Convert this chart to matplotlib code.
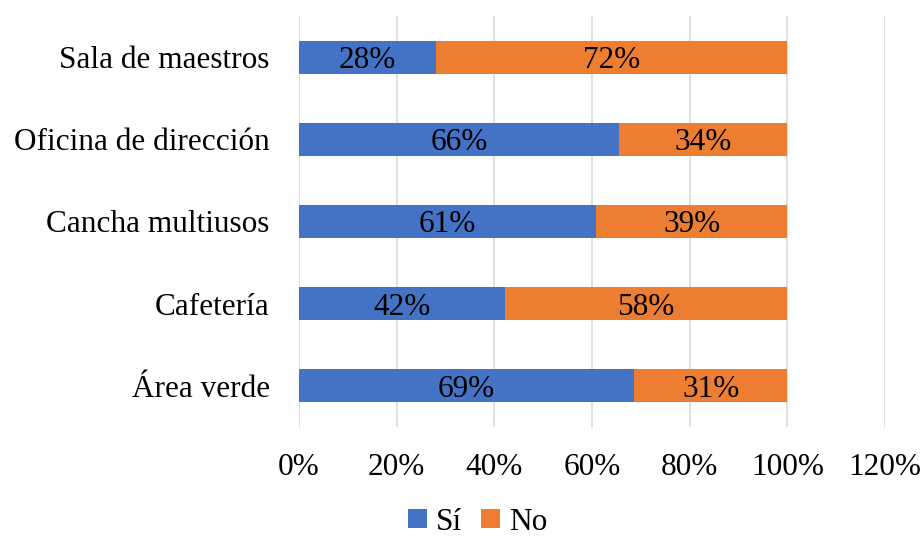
import matplotlib
matplotlib.use("Agg")
import matplotlib.pyplot as plt
from matplotlib.ticker import MultipleLocator, FuncFormatter

categories = ["Área verde", "Cafetería", "Cancha multiusos", "Oficina de dirección", "Sala de maestros"]
si_values = [0.687, 0.421, 0.609, 0.656, 0.28]
no_values = [0.313, 0.579, 0.391, 0.344, 0.72]
si_labels = ["69%", "42%", "61%", "66%", "28%"]
no_labels = ["31%", "58%", "39%", "34%", "72%"]
series_names = ["Sí", "No"]

plt.rcParams['font.family'] = ['Liberation Serif', 'DejaVu Serif']
FS = 22.5

fig = plt.figure(figsize=(9.24, 5.38), dpi=100)
ax = fig.add_axes([299/924, 1-427/538, (885-299)/924, (427-16)/538])

blue = "#4472C4"
orange = "#ED7D31"
y = list(range(len(categories)))
b1 = ax.barh(y, si_values, height=0.4, color=blue, label=series_names[0], zorder=3)
b2 = ax.barh(y, no_values, left=si_values, height=0.4, color=orange, label=series_names[1], zorder=3)

for i in range(len(categories)):
    ax.text(si_values[i]/2, y[i], si_labels[i], ha="center", va="center_baseline", fontsize=FS, color="black", zorder=4)
    ax.text(si_values[i] + no_values[i]/2, y[i], no_labels[i], ha="center", va="center_baseline", fontsize=FS, color="black", zorder=4)

ax.set_xlim(0, 1.2)
ax.set_ylim(-0.5, len(categories)-0.5)
ax.xaxis.set_major_locator(MultipleLocator(0.2))
ax.xaxis.set_major_formatter(FuncFormatter(lambda v, p: f"{round(v*100)}%"))
ax.set_yticks(y)
ax.set_yticklabels(categories)
ax.tick_params(axis="both", length=0, labelsize=FS)
ax.tick_params(axis="x", pad=19)
ax.tick_params(axis="y", pad=21)
for lab in ax.get_yticklabels():
    lab.set_verticalalignment("center_baseline")
ax.grid(axis="x", color="#D9D9D9", linewidth=1.2, zorder=0)
for s in ax.spines.values():
    s.set_visible(False)

fig.legend(handles=[b1, b2], labels=series_names, loc="center", bbox_to_anchor=(478/924, 1-522/538),
           ncol=2, frameon=False, fontsize=FS, handlelength=0.6, handleheight=0.6,
           handletextpad=0.3, columnspacing=0.6)

fig.savefig("out.png", dpi=100)
